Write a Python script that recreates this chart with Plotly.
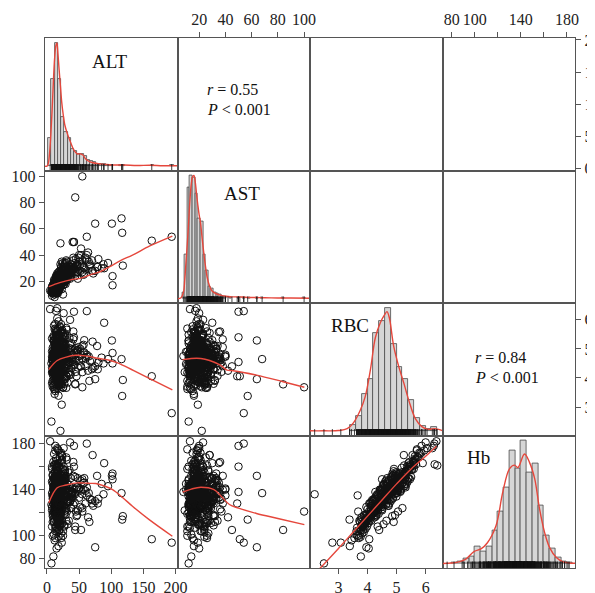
import plotly.graph_objects as go
from plotly.subplots import make_subplots

VARS = ["ALT", "AST", "RBC", "Hb"]

ALT = [12, 18, 15, 9, 22, 14, 16, 27, 11, 19, 13, 35, 17, 8, 21, 15, 24, 12, 16, 30,
       14, 20, 10, 17, 25, 13, 19, 42, 16, 11, 23, 15, 18, 29, 12, 38, 14, 21, 9, 16,
       15, 13, 22, 17, 11, 26, 14, 18, 33, 16, 20, 12, 47, 15, 19, 10, 24, 13, 17, 28,
       16, 21, 13, 19, 8, 14, 31, 17, 12, 23, 15, 55, 18, 10, 26, 14, 20, 16, 36, 13,
       11, 17, 24, 15, 19, 13, 22, 9, 16, 40, 14, 18, 27, 12, 20, 15, 32, 17, 13, 21,
       16, 12, 19, 25, 14, 18, 10, 44, 15, 21, 13, 17, 29, 11, 23, 16, 19, 14, 60, 18,
       13, 20, 15, 17, 34, 12, 22, 16, 9, 26, 14, 19, 11, 50, 18, 15, 23, 13, 17, 39,
       18, 14, 21, 16, 12, 28, 15, 19, 13, 24, 17, 10, 35, 16, 20, 14, 46, 12, 22, 15,
       17, 13, 25, 15, 19, 11, 22, 16, 30, 14, 18, 12, 21, 53, 15, 20, 13, 26, 16, 43,
       14, 19, 16, 23, 12, 17, 37, 15, 20, 10, 18, 27, 13, 16, 22, 14, 65, 19, 15, 24,
       22, 30, 16, 41, 13, 25, 58, 18, 12, 34, 20, 14, 27, 11, 47, 17, 9, 38, 23, 15,
       45, 62, 70, 52, 85, 40, 75, 57, 48, 66, 42, 95, 55, 78, 50, 88, 36, 72, 60, 44,
       55, 44, 116, 117, 101, 75, 62, 42, 21, 53, 163, 194, 118, 102, 102, 89, 71, 79, 7, 10,
       18, 23, 15, 21, 5, 26, 14, 16, 30, 8, 12, 25,
       9, 13, 17, 21, 26, 31, 11, 15, 19, 24, 8, 14, 18, 23, 29, 37, 12, 16, 20, 48,
       10, 14, 19, 25, 33, 12, 16, 22, 28, 41, 9, 13, 17, 21, 27, 35, 11, 15, 20, 57,
       8, 12, 16, 20, 24, 30, 38, 10, 14, 18, 22, 27, 34, 45, 13, 17, 21, 26, 15, 67,
       11, 15, 19, 23, 28, 36, 9, 13, 17, 21, 25, 31, 43, 14, 18, 22, 12, 16, 26, 52,
       7, 12, 16, 20, 25, 32, 10, 14, 18, 23, 29, 39, 13, 17, 21, 15, 19, 24, 11, 62,
       9, 13, 17, 22, 27, 35, 11, 15, 19, 24, 30, 46, 12, 16, 20, 25, 14, 18, 28, 58,
       10, 14, 18, 23, 29, 38, 8, 12, 16, 21, 26, 33, 49, 15, 19, 24, 13, 17, 22, 70,
       12, 16, 20, 25, 31, 9, 13, 17, 22, 28, 40, 11, 15, 19, 24, 34, 14, 18, 26, 55,
       8, 13, 17, 21, 26, 32, 44, 10, 14, 18, 23, 29, 12, 16, 20, 25, 15, 19, 37, 80,
       11, 15, 19, 24, 30, 41, 9, 13, 17, 22, 27, 36, 12, 16, 20, 26, 14, 18, 23, 64]

AST = [15, 19, 17, 13, 21, 16, 18, 24, 14, 20, 16, 27, 17, 12, 19, 15, 22, 16, 18, 25,
       18, 17, 14, 21, 23, 15, 19, 30, 16, 13, 22, 19, 16, 26, 15, 28, 17, 20, 11, 18,
       14, 17, 20, 16, 15, 23, 18, 21, 29, 13, 19, 16, 33, 18, 22, 12, 20, 14, 19, 24,
       19, 18, 15, 23, 14, 17, 26, 20, 13, 21, 17, 36, 19, 14, 25, 16, 21, 18, 27, 15,
       12, 20, 19, 17, 16, 14, 23, 13, 18, 31, 15, 22, 20, 17, 18, 16, 28, 15, 17, 24,
       16, 15, 21, 22, 17, 19, 12, 34, 14, 24, 18, 16, 27, 13, 19, 20, 17, 15, 38, 22,
       17, 18, 13, 20, 28, 14, 20, 19, 12, 22, 16, 23, 15, 35, 17, 18, 26, 14, 21, 29,
       18, 16, 22, 15, 14, 23, 19, 17, 16, 21, 20, 13, 27, 17, 19, 15, 32, 14, 20, 18,
       17, 15, 24, 16, 21, 13, 19, 18, 25, 17, 20, 14, 23, 40, 16, 19, 15, 21, 17, 30,
       16, 22, 18, 20, 15, 17, 31, 14, 21, 12, 19, 25, 17, 18, 23, 16, 35, 20, 15, 22,
       21, 25, 19, 36, 15, 22, 30, 18, 16, 28, 22, 15, 24, 14, 31, 20, 11, 26, 19, 17,
       26, 36, 28, 33, 30, 50, 28, 25, 22, 32, 50, 34, 27, 31, 40, 33, 23, 26, 29, 24,
       100, 84, 68, 57, 64, 64, 54, 50, 49, 45, 51, 54, 32, 24, 17, 30, 28, 31, 12, 14,
       16, 19, 20, 22, 13, 20, 17, 18, 25, 9, 8, 10,
       14, 11, 22, 17, 30, 21, 18, 12, 25, 19, 16, 23, 13, 28, 20, 33, 10, 24, 15, 27,
       13, 20, 15, 26, 24, 19, 11, 27, 22, 29, 17, 13, 24, 16, 32, 25, 21, 14, 26, 31,
       15, 18, 12, 23, 20, 34, 27, 16, 21, 14, 26, 18, 30, 37, 19, 11, 25, 22, 17, 33,
       12, 21, 17, 28, 23, 26, 15, 20, 14, 25, 19, 35, 29, 22, 17, 31, 18, 13, 24, 28,
       13, 16, 24, 19, 31, 22, 12, 18, 27, 14, 25, 30, 20, 16, 33, 21, 15, 29, 17, 40,
       17, 12, 19, 30, 21, 28, 19, 23, 13, 24, 36, 27, 15, 25, 18, 22, 11, 20, 34, 26,
       15, 22, 14, 25, 18, 31, 11, 17, 26, 20, 23, 29, 38, 16, 24, 19, 14, 21, 27, 36,
       14, 19, 28, 17, 26, 12, 22, 16, 21, 33, 30, 18, 13, 23, 20, 27, 16, 24, 19, 32,
       12, 18, 25, 16, 22, 30, 28, 14, 20, 17, 27, 24, 15, 21, 19, 34, 17, 23, 29, 37,
       16, 13, 20, 29, 23, 38, 14, 19, 25, 18, 31, 22, 17, 12, 26, 21, 24, 15, 35, 42]

RBC = [4.52, 4.81, 4.35, 4.12, 5.03, 4.66, 4.74, 5.21, 3.95, 4.58, 4.43, 5.38, 4.69, 3.82, 4.91, 4.61, 5.12, 4.27, 4.55, 4.98,
       4.70, 4.47, 4.23, 4.88, 4.63, 4.39, 5.07, 4.86, 4.50, 4.05, 4.77, 4.95, 4.33, 5.15, 4.48, 4.72, 4.60, 5.29, 4.18, 4.84,
       4.41, 4.96, 4.56, 4.30, 4.67, 5.45, 4.14, 4.79, 4.44, 5.01, 3.89, 4.62, 4.90, 4.25, 4.71, 4.36, 5.18, 4.53, 4.00, 4.85,
       4.64, 4.21, 4.89, 4.45, 4.73, 5.10, 4.59, 4.37, 4.82, 5.24, 4.49, 4.68, 3.98, 4.57, 4.93, 4.28, 4.76, 5.34, 4.54, 4.10,
       4.77, 4.42, 5.06, 4.60, 4.26, 4.99, 4.70, 3.91, 4.51, 4.80, 5.42, 4.34, 4.65, 4.19, 5.13, 4.57, 4.47, 4.87, 3.78, 4.62,
       4.55, 4.69, 4.31, 4.94, 5.56, 4.46, 4.83, 4.66, 4.08, 4.74, 5.02, 4.39, 4.58, 4.90, 4.22, 5.27, 4.63, 4.76, 4.41, 5.08,
       4.29, 4.85, 4.53, 3.86, 4.72, 4.97, 4.44, 5.16, 4.61, 4.36, 4.81, 5.50, 4.15, 4.59, 4.68, 4.02, 4.88, 4.48, 5.31, 4.70,
       4.58, 5.11, 4.38, 4.73, 4.20, 4.91, 4.64, 3.95, 4.52, 5.04, 4.32, 4.79, 4.56, 5.37, 4.67, 4.11, 4.86, 4.43, 4.75, 5.20,
       4.65, 4.26, 4.99, 4.48, 3.73, 4.84, 4.57, 5.47, 4.71, 4.40, 5.09, 4.62, 4.17, 4.80, 4.54, 4.93, 4.35, 4.69, 5.61, 4.46,
       4.73, 4.50, 5.14, 4.27, 4.89, 4.61, 4.53, 4.05, 4.78, 4.42, 5.00, 4.66, 4.34, 4.96, 4.59, 5.23, 4.74, 3.84, 4.68, 4.45,
       5.85, 5.72, 6.05, 5.60, 3.55, 3.68, 5.30, 5.95, 3.45, 4.65, 4.85, 5.05, 4.35, 3.62, 4.95, 4.55, 3.70, 5.20, 5.65, 4.90,
       4.60, 4.80, 4.30, 5.00, 4.70, 4.55, 4.40, 4.85, 4.95, 3.90, 5.40, 4.65, 4.20, 5.10, 4.75, 4.50, 6.00, 4.35, 4.68, 3.80,
       3.68, 3.78, 4.65, 3.38, 5.29, 3.96, 6.30, 6.28, 4.06, 4.40, 4.06, 2.79, 3.93, 4.50, 4.86, 5.90, 5.25, 4.30, 2.50, 3.77,
       3.39, 3.08, 4.04, 2.18, 6.37, 6.23, 6.31, 6.40, 3.66, 4.20, 4.75, 4.90,
       4.95, 3.62, 5.48, 4.08, 4.83, 5.66, 3.74, 4.32, 5.22, 4.12, 5.36, 3.98, 4.71, 5.55, 4.25, 5.01, 4.48, 3.87, 5.78, 4.36,
       4.18, 5.12, 4.57, 3.66, 4.98, 5.31, 4.45, 3.81, 5.40, 4.63, 5.04, 4.24, 3.93, 5.59, 4.77, 4.11, 5.26, 4.52, 4.03, 5.14,
       4.61, 3.88, 5.19, 4.42, 5.63, 4.07, 4.88, 5.44, 4.16, 4.70, 3.70, 5.32, 4.53, 4.21, 4.93, 5.70, 4.34, 3.96, 5.08, 4.58,
       5.27, 4.47, 3.79, 4.86, 5.53, 4.19, 4.74, 5.86, 4.38, 3.91, 5.16, 4.66, 4.97, 4.09, 5.41, 4.29, 4.81, 3.64, 5.05, 4.40,
       4.50, 5.09, 4.23, 5.75, 4.67, 3.84, 5.29, 4.43, 4.90, 5.57, 4.12, 4.78, 4.99, 3.72, 4.60, 5.18, 4.31, 4.86, 5.42, 4.73,
       4.82, 4.14, 5.34, 4.56, 3.96, 5.02, 4.68, 5.50, 4.27, 4.95, 4.49, 4.06, 5.67, 4.37, 4.76, 5.23, 3.90, 4.62, 5.10, 4.88,
       4.44, 5.20, 4.64, 3.78, 5.46, 4.33, 4.91, 4.00, 5.60, 4.52, 4.86, 4.17, 5.06, 4.72, 3.85, 5.35, 4.41, 4.98, 4.24, 4.60,
       5.13, 4.28, 4.77, 5.52, 4.05, 4.70, 5.38, 3.93, 4.59, 5.00, 4.45, 5.80, 4.15, 4.84, 5.25, 4.36, 4.94, 3.76, 4.66, 5.11,
       4.35, 4.97, 3.82, 5.28, 4.62, 4.80, 5.03, 4.46, 5.64, 4.19, 4.73, 3.98, 5.17, 4.55, 4.89, 4.27, 5.44, 4.69, 4.11, 4.53,
       4.87, 4.32, 5.06, 3.90, 4.75, 5.33, 4.22, 5.70, 4.50, 4.93, 3.80, 5.15, 4.64, 5.49, 4.13, 4.82, 5.01, 4.39, 5.58, 4.25]

HB = [130, 140, 126, 117, 147, 137, 136, 152, 112, 133, 128, 157, 134, 108, 141, 136, 148, 121, 131, 143,
      138, 125, 121, 144, 134, 127, 149, 140, 129, 115, 139, 146, 124, 150, 132, 137, 133, 153, 119, 142,
      127, 145, 132, 123, 135, 160, 118, 139, 129, 143, 110, 134, 142, 122, 138, 127, 151, 130, 114, 141,
      133, 120, 144, 128, 137, 148, 134, 126, 140, 152, 129, 136, 116, 131, 143, 124, 139, 155, 130, 119,
      139, 128, 147, 135, 122, 146, 137, 112, 131, 141, 158, 126, 136, 121, 150, 133, 130, 142, 107, 134,
      132, 136, 124, 145, 162, 129, 141, 136, 117, 138, 147, 127, 134, 144, 122, 154, 135, 139, 128, 148,
      123, 142, 131, 111, 138, 145, 129, 151, 134, 126, 140, 160, 120, 133, 137, 116, 143, 130, 156, 136,
      134, 149, 127, 138, 121, 144, 135, 114, 131, 147, 125, 140, 132, 157, 137, 119, 142, 128, 139, 152,
      136, 122, 146, 130, 104, 143, 133, 160, 137, 127, 150, 135, 121, 140, 132, 145, 126, 137, 165, 129,
      139, 131, 150, 123, 143, 135, 131, 116, 140, 128, 146, 136, 125, 145, 134, 153, 137, 109, 138, 129,
      172, 168, 176, 164, 98, 104, 150, 174, 96, 113, 117, 121, 108, 101, 118, 110, 100, 124, 166, 112,
      140, 142, 128, 148, 145, 138, 130, 146, 150, 112, 160, 143, 124, 152, 141, 136, 181, 126, 139, 108,
      121, 105, 137, 114, 152, 90, 180, 178, 128, 105, 97, 94, 117, 149, 154, 163, 170, 128, 76, 82,
      91, 94, 89, 136, 182, 176, 162, 161, 135, 122, 138, 145,
      152, 104, 162, 114, 150, 166, 112, 120, 146, 126, 160, 108, 142, 170, 124, 150, 140, 103, 172, 122,
      128, 138, 145, 100, 155, 142, 138, 102, 150, 127, 153, 118, 106, 158, 147, 129, 161, 141, 111, 140,
      147, 118, 148, 140, 169, 113, 133, 164, 131, 126, 98, 156, 144, 121, 136, 175, 128, 125, 142, 132,
      149, 136, 116, 132, 157, 130, 148, 178, 119, 110, 141, 146, 137, 128, 163, 117, 151, 107, 139, 125,
      127, 154, 131, 168, 131, 110, 143, 139, 156, 165, 122, 138, 134, 113, 143, 159, 118, 149, 150, 135,
      135, 126, 145, 144, 119, 139, 150, 151, 133, 140, 123, 117, 162, 136, 131, 155, 108, 141, 148, 146,
      140, 146, 127, 114, 149, 136, 158, 123, 161, 125, 152, 130, 140, 132, 105, 148, 137, 141, 120, 131,
      143, 129, 137, 158, 121, 145, 147, 118, 139, 154, 133, 171, 126, 137, 143, 134, 151, 99, 131, 149,
      125, 150, 112, 145, 141, 130, 151, 133, 167, 129, 126, 118, 155, 127, 153, 138, 157, 136, 124, 132,
      138, 135, 141, 111, 128, 152, 132, 174, 122, 147, 109, 139, 148, 160, 113, 144, 137, 128, 163, 116]

# histogram bins (left edge, relative height)
ALT_HIST_LEFT = [2, 7, 12, 17, 22, 27, 32, 37, 42, 47, 52, 57, 62, 67, 72, 77, 82, 87, 92, 97, 112, 117, 162, 192]
ALT_HIST_H = [0.23, 0.71, 1.0, 0.71, 0.40, 0.28, 0.23, 0.14, 0.12, 0.10, 0.10, 0.08, 0.05, 0.04, 0.03, 0.02,
              0.02, 0.015, 0.01, 0.012, 0.01, 0.008, 0.006, 0.006]
ALT_HIST_W = 5
AST_HIST_LEFT = [7, 9, 11, 13, 15, 17, 19, 21, 23, 25, 27, 29, 31, 33, 35, 37, 39, 43, 49, 53, 57, 63, 67, 83, 99]
AST_HIST_H = [0.05, 0.36, 0.90, 1.0, 0.98, 0.85, 0.65, 0.63, 0.36, 0.23, 0.10, 0.08, 0.05, 0.04, 0.03, 0.02,
              0.02, 0.01, 0.012, 0.01, 0.006, 0.01, 0.006, 0.006, 0.006]
AST_HIST_W = 2
RBC_HIST_LEFT = [3.4, 3.6, 3.8, 4.0, 4.2, 4.4, 4.6, 4.8, 5.0, 5.2, 5.4, 5.6, 5.8, 6.0, 6.2]
RBC_HIST_H = [0.05, 0.12, 0.30, 0.42, 0.80, 0.89, 1.0, 0.71, 0.52, 0.42, 0.25, 0.11, 0.04, 0.02, 0.03]
RBC_HIST_W = 0.2
HB_HIST_LEFT = [80, 85, 90, 95, 100, 105, 110, 115, 120, 125, 130, 135, 140, 145, 150, 155, 160, 165, 170, 175, 180]
HB_HIST_H = [0.01, 0.02, 0.04, 0.06, 0.14, 0.10, 0.14, 0.27, 0.42, 0.62, 0.92, 0.77, 1.0, 0.74, 0.81, 0.47,
             0.23, 0.12, 0.05, 0.02, 0.01]
HB_HIST_W = 5

# density curves (relative height)
ALT_DENS_X = [-3, 0, 2, 4, 6, 8, 10, 12, 14, 15.5, 17, 19, 21, 23, 25, 28, 32, 37, 42, 47, 52, 56, 60, 65, 70,
              80, 90, 100, 120, 140, 160, 180, 203]
ALT_DENS_Y = [0, 0, 0.02, 0.1, 0.25, 0.45, 0.68, 0.88, 0.98, 1.0, 0.92, 0.78, 0.65, 0.52, 0.43, 0.33, 0.26, 0.19,
              0.13, 0.1, 0.1, 0.09, 0.06, 0.04, 0.03, 0.02, 0.015, 0.01, 0.01, 0.005, 0.008, 0.004, 0.003]
AST_DENS_X = [3.5, 6, 8, 9, 10, 11, 12, 13, 14, 15, 16, 17, 18, 19, 20, 21, 22, 23, 24, 25, 26, 28, 30, 33, 36,
              40, 45, 50, 55, 60, 70, 80, 90, 104.5]
AST_DENS_Y = [0, 0.005, 0.05, 0.15, 0.3, 0.45, 0.62, 0.8, 0.93, 0.99, 1.0, 0.95, 0.85, 0.76, 0.68, 0.62, 0.52,
              0.42, 0.33, 0.25, 0.18, 0.1, 0.06, 0.04, 0.03, 0.02, 0.015, 0.015, 0.012, 0.01, 0.008, 0.006,
              0.005, 0.004]
RBC_DENS_X = [2.02, 2.5, 3.0, 3.3, 3.52, 3.75, 3.92, 4.1, 4.27, 4.44, 4.6, 4.67, 4.75, 4.9, 5.08, 5.25, 5.42,
              5.65, 5.88, 6.1, 6.3, 6.45, 6.58]
RBC_DENS_Y = [0.003, 0.003, 0.005, 0.02, 0.07, 0.17, 0.28, 0.5, 0.76, 0.88, 0.95, 0.97, 0.92, 0.69, 0.52, 0.39,
              0.25, 0.10, 0.035, 0.015, 0.02, 0.015, 0.005]
HB_DENS_X = [72, 80, 86, 92, 99.6, 105.4, 111, 118.5, 124.3, 130.1, 134.5, 137.4, 143.2, 147.6, 152, 156.3,
             160.7, 165, 170.8, 176.7, 182, 187]
HB_DENS_Y = [0.002, 0.005, 0.015, 0.035, 0.10, 0.12, 0.17, 0.31, 0.58, 0.77, 0.80, 0.78, 0.89, 0.82, 0.69,
             0.44, 0.25, 0.13, 0.05, 0.015, 0.006, 0.003]

# smoother lines in the lower panels (x variable, y variable)
FIT_ALT_AST_X = [3, 20, 40, 53, 70, 81, 97, 115, 133, 160, 195]
FIT_ALT_AST_Y = [16, 19, 21.5, 22.5, 25.5, 27, 31, 36, 40, 47, 54.5]
FIT_ALT_RBC_X = [3, 16, 30, 45, 60, 81, 97, 110, 135, 159, 195]
FIT_ALT_RBC_Y = [4.29, 4.6, 4.72, 4.78, 4.76, 4.67, 4.61, 4.52, 4.25, 3.99, 3.59]
FIT_ALT_HB_X = [3, 16, 30, 47, 65, 76, 90, 102, 118, 133, 159, 195]
FIT_ALT_HB_Y = [128.6, 141.6, 144, 145.9, 145.5, 145.3, 143, 140, 133, 125.6, 114, 99.6]
FIT_AST_RBC_X = [7.4, 14, 21.3, 28, 36.2, 41.2, 46, 63.7, 84, 100.2]
FIT_AST_RBC_Y = [4.63, 4.67, 4.67, 4.6, 4.44, 4.27, 4.25, 4.1, 3.87, 3.68]
FIT_AST_HB_X = [7.4, 14, 21.3, 31.3, 36.8, 43.1, 50, 63.7, 80, 100.2]
FIT_AST_HB_Y = [137.8, 140.5, 142.1, 140, 134.3, 127.1, 124, 119.3, 115, 109.7]
FIT_RBC_HB_X = [2.3, 3.0, 3.5, 4.0, 4.5, 5.0, 5.5, 6.0, 6.37]
FIT_RBC_HB_Y = [70, 89, 103, 117, 131, 145, 158, 169, 177.7]

CORR_TEXT = {(0, 1): ("0.55", "0.001"), (2, 3): ("0.84", "0.001")}

# ---------------------------------------------------------------------------
n = min(len(ALT), len(AST), len(RBC), len(HB))
data = {"ALT": ALT[:n], "AST": AST[:n], "RBC": RBC[:n], "Hb": HB[:n]}
ranges = {"ALT": [-3, 203], "AST": [3.5, 104.5], "RBC": [2.02, 6.58], "Hb": [72, 187]}
hists = {"ALT": (ALT_HIST_LEFT, ALT_HIST_H, ALT_HIST_W),
         "AST": (AST_HIST_LEFT, AST_HIST_H, AST_HIST_W),
         "RBC": (RBC_HIST_LEFT, RBC_HIST_H, RBC_HIST_W),
         "Hb": (HB_HIST_LEFT, HB_HIST_H, HB_HIST_W)}
dens = {"ALT": (ALT_DENS_X, ALT_DENS_Y), "AST": (AST_DENS_X, AST_DENS_Y),
        "RBC": (RBC_DENS_X, RBC_DENS_Y), "Hb": (HB_DENS_X, HB_DENS_Y)}
fits = {("ALT", "AST"): (FIT_ALT_AST_X, FIT_ALT_AST_Y),
        ("ALT", "RBC"): (FIT_ALT_RBC_X, FIT_ALT_RBC_Y),
        ("ALT", "Hb"): (FIT_ALT_HB_X, FIT_ALT_HB_Y),
        ("AST", "RBC"): (FIT_AST_RBC_X, FIT_AST_RBC_Y),
        ("AST", "Hb"): (FIT_AST_HB_X, FIT_AST_HB_Y),
        ("RBC", "Hb"): (FIT_RBC_HB_X, FIT_RBC_HB_Y)}

RED = "#e5473c"
FONT = "Liberation Serif, Times New Roman, serif"
HIST_YR = [-0.035, 1.04]

# the page body has an 8 px margin, so the figure is made 8 px smaller and
# the margins are reduced so that the panels land on the reference pixels
OFF = 8
W, H = 595 - OFF, 593 - OFF
PAGE_L, PAGE_T = 45, 38        # panel block top-left in page pixels
PW, PH = 530, 530
ML, MT = PAGE_L - OFF, PAGE_T - OFF
MR, MB = W - ML - PW, H - MT - PH


def px(x):
    return (x - PAGE_L) / PW


def py(y):
    return 1 - (y - PAGE_T) / PH


fig = make_subplots(rows=4, cols=4, horizontal_spacing=0, vertical_spacing=0)

for r in range(4):
    for c in range(4):
        vx, vy = VARS[c], VARS[r]
        row, col = r + 1, c + 1
        if r == c:
            left, hts, w = hists[vx]
            fig.add_trace(go.Bar(x=[l + w / 2 for l in left], y=hts, width=w,
                                 marker=dict(color="#d6d6d6", line=dict(color="#4a4a4a", width=0.8))),
                          row=row, col=col)
            dx, dy = dens[vx]
            fig.add_trace(go.Scatter(x=dx, y=dy, mode="lines", line=dict(color=RED, width=1.4, shape="spline"),
                                     hoverinfo="skip"), row=row, col=col)
            fig.add_trace(go.Scatter(x=data[vx], y=[-0.017] * n, mode="markers",
                                     marker=dict(symbol="line-ns-open", size=6, color="#111",
                                                 line=dict(color="#111", width=0.8))),
                          row=row, col=col)
            fig.update_yaxes(range=HIST_YR, row=row, col=col)
        elif r > c:
            fig.add_trace(go.Scatter(x=data[vx], y=data[vy], mode="markers",
                                     marker=dict(symbol="circle-open", size=7.5, color="#111",
                                                 line=dict(color="#111", width=1.0))),
                          row=row, col=col)
            fx, fy = fits[(vx, vy)]
            fig.add_trace(go.Scatter(x=fx, y=fy, mode="lines", line=dict(color=RED, width=1.4, shape="spline"),
                                     hoverinfo="skip"), row=row, col=col)
            fig.update_yaxes(range=ranges[vy], row=row, col=col)
        else:
            # empty upper panel: invisible placeholder so the frame and ticks are drawn
            fig.add_trace(go.Scatter(x=[sum(ranges[vx]) / 2], y=[sum(ranges[vy]) / 2], mode="markers",
                                     marker=dict(opacity=0), hoverinfo="skip"), row=row, col=col)
            fig.update_yaxes(range=ranges[vy], row=row, col=col)
        fig.update_xaxes(range=ranges[vx], row=row, col=col)

fig.update_xaxes(showline=True, mirror=True, linecolor="#555", linewidth=1.4, showgrid=False,
                 zeroline=False, showticklabels=False, ticks="", automargin=False, tickangle=0)
fig.update_yaxes(showline=True, mirror=True, linecolor="#555", linewidth=1.4, showgrid=False,
                 zeroline=False, showticklabels=False, ticks="", automargin=False, tickangle=0)

tick_style = dict(ticks="outside", ticklen=5, tickwidth=1.1, tickcolor="#555", showticklabels=True,
                  tickfont=dict(family=FONT, size=16, color="#222"))
HB_TV = [80, 100, 120, 140, 160, 180]
HB_TT = ["80", "100", "", "140", "", "180"]

fig.update_xaxes(row=4, col=1, tickvals=[0, 50, 100, 150, 200], **tick_style)
fig.update_xaxes(row=4, col=3, tickvals=[3, 4, 5, 6], **tick_style)
fig.update_xaxes(row=1, col=2, side="top", tickvals=[20, 40, 60, 80, 100], **tick_style)
fig.update_xaxes(row=1, col=4, side="top", tickvals=HB_TV, ticktext=HB_TT, **tick_style)
fig.update_yaxes(row=2, col=1, tickvals=[20, 40, 60, 80, 100], **tick_style)
fig.update_yaxes(row=4, col=1, tickvals=HB_TV, ticktext=HB_TT, **tick_style)
fig.update_yaxes(row=1, col=4, side="right", tickvals=[0, 50, 100, 150, 200], **tick_style)
fig.update_yaxes(row=3, col=4, side="right", tickvals=[3, 4, 5, 6], **tick_style)

# variable labels on the diagonal
label_pos = {"ALT": (110, 62), "AST": (242, 193), "RBC": (350, 325), "Hb": (478, 457)}
for v, (lx, ly) in label_pos.items():
    fig.add_annotation(x=px(lx), y=py(ly), xref="paper", yref="paper", text=v, showarrow=False,
                       font=dict(family=FONT, size=19, color="#111"), xanchor="center", yanchor="middle")

corr_pos = {(0, 1): (205, 90, 110), (2, 3): (473, 357, 377)}
for key, (rv, pv) in CORR_TEXT.items():
    lx, y1, y2 = corr_pos[key]
    fig.add_annotation(x=px(lx), y=py(y1), xref="paper", yref="paper", text="<i>r</i> = " + rv,
                       showarrow=False, font=dict(family=FONT, size=16, color="#111"),
                       xanchor="left", yanchor="middle")
    fig.add_annotation(x=px(lx), y=py(y2), xref="paper", yref="paper", text="<i>P</i> &lt; " + pv,
                       showarrow=False, font=dict(family=FONT, size=16, color="#111"),
                       xanchor="left", yanchor="middle")

fig.update_layout(width=W, height=H, autosize=False, showlegend=False,
                  margin=dict(l=ML, r=MR, t=MT, b=MB, autoexpand=False),
                  paper_bgcolor="white", plot_bgcolor="white", bargap=0)

fig.write_html("out.html")
